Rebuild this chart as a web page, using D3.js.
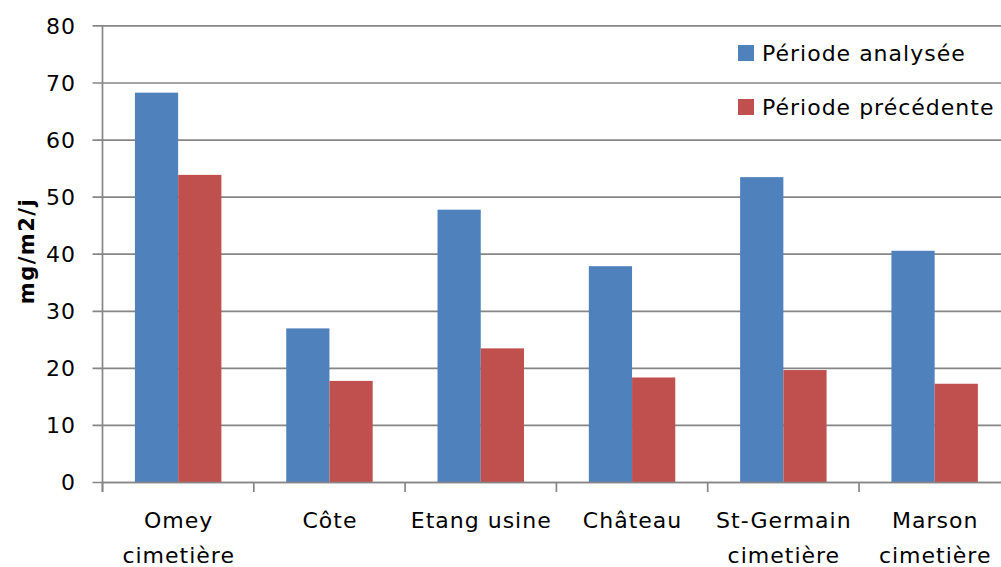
<!DOCTYPE html>
<html>
<head>
<meta charset="utf-8">
<script src="https://cdn.jsdelivr.net/npm/d3@7/dist/d3.min.js"></script>
<style>
  html, body { margin: 0; padding: 0; background: #fff; overflow: hidden; }
  svg { display: block; }
  text { font-family: "DejaVu Sans", Verdana, sans-serif; fill: #000; }
</style>
</head>
<body>
<svg id="chart" width="1001" height="567"></svg>
<script>
const categories = [["Omey", "cimetière"], ["Côte"], ["Etang usine"], ["Château"], ["St-Germain", "cimetière"], ["Marson", "cimetière"]];
const seriesNames = ["Période analysée", "Période précédente"];
const analysee = [68.3, 27.0, 47.8, 37.9, 53.5, 40.6];
const precedente = [53.9, 17.8, 23.5, 18.4, 19.7, 17.3];
const yTicks = [0, 10, 20, 30, 40, 50, 60, 70, 80];
const colors = ["#4F81BD", "#C0504D"];

const svg = d3.select("#chart");
const plotLeft = 102.5, plotRight = 1010.3, plotTop = 25.9, plotBottom = 482.5;
const fontSize = 22;
const spacing = 1;

const catKeys = categories.map((c, i) => i);
const x0 = d3.scaleBand().domain(catKeys).range([plotLeft, plotRight])
  .paddingInner(1.5 / 3.5).paddingOuter(0.75 / 3.5);
const x1 = d3.scaleBand().domain([0, 1]).range([0, x0.bandwidth()]);
const y = d3.scaleLinear().domain([0, 80]).range([plotBottom, plotTop]);
const step = x0.step();

const gridColor = "#868686";

// gridlines
svg.append("g").selectAll("line").data(yTicks).join("line")
  .attr("x1", plotLeft - 10).attr("x2", 1001)
  .attr("y1", d => y(d)).attr("y2", d => y(d))
  .attr("stroke", gridColor).attr("stroke-width", 1.7);

// y axis line
svg.append("line").attr("x1", plotLeft).attr("x2", plotLeft)
  .attr("y1", plotTop).attr("y2", plotBottom + 9.5)
  .attr("stroke", gridColor).attr("stroke-width", 1.7);

// x category boundary ticks
svg.append("g").selectAll("line").data(d3.range(categories.length + 1)).join("line")
  .attr("x1", i => plotLeft + i * step).attr("x2", i => plotLeft + i * step)
  .attr("y1", plotBottom).attr("y2", plotBottom + 9.5)
  .attr("stroke", gridColor).attr("stroke-width", 1.7);

// bars
const values = [analysee, precedente];
const bars = svg.append("g");
values.forEach((vals, s) => {
  bars.append("g").selectAll("rect").data(vals).join("rect")
    .attr("x", (d, i) => x0(i) + x1(s))
    .attr("y", d => y(d))
    .attr("width", x1.bandwidth())
    .attr("height", d => y(0) - y(d))
    .attr("fill", colors[s]);
});

// redraw baseline over bars
svg.append("line").attr("x1", plotLeft).attr("x2", 1001)
  .attr("y1", plotBottom).attr("y2", plotBottom)
  .attr("stroke", gridColor).attr("stroke-width", 1.7);

// y tick labels
svg.append("g").selectAll("text").data(yTicks).join("text")
  .attr("x", 76).attr("y", d => y(d))
  .attr("dy", "0.36em")
  .attr("text-anchor", "end")
  .attr("font-size", fontSize)
  .attr("letter-spacing", spacing)
  .text(d => d);

// x labels
const xl = svg.append("g").selectAll("text").data(categories).join("text")
  .attr("text-anchor", "middle")
  .attr("font-size", fontSize)
  .attr("letter-spacing", spacing)
  .attr("transform", (d, i) => `translate(${x0(i) + x0.bandwidth() / 2 + 0.5},528)`);
xl.selectAll("tspan").data(d => d).join("tspan")
  .attr("x", 0).attr("y", (d, j) => j * 35)
  .text(d => d);

// y axis title
svg.append("text")
  .attr("transform", "translate(34,251) rotate(-90)")
  .attr("text-anchor", "middle")
  .attr("font-size", 21)
  .attr("font-weight", "bold")
  .attr("letter-spacing", 1.5)
  .text("mg/m2/j");

// legend
const lg = svg.append("g").selectAll("g").data(seriesNames).join("g")
  .attr("transform", (d, i) => `translate(738,${45 + i * 54})`);
lg.append("rect").attr("width", 16).attr("height", 16).attr("fill", (d, i) => colors[i]);
lg.append("text").attr("x", 24).attr("y", 15.5).attr("font-size", fontSize)
  .attr("letter-spacing", spacing).text(d => d);
</script>
</body>
</html>
